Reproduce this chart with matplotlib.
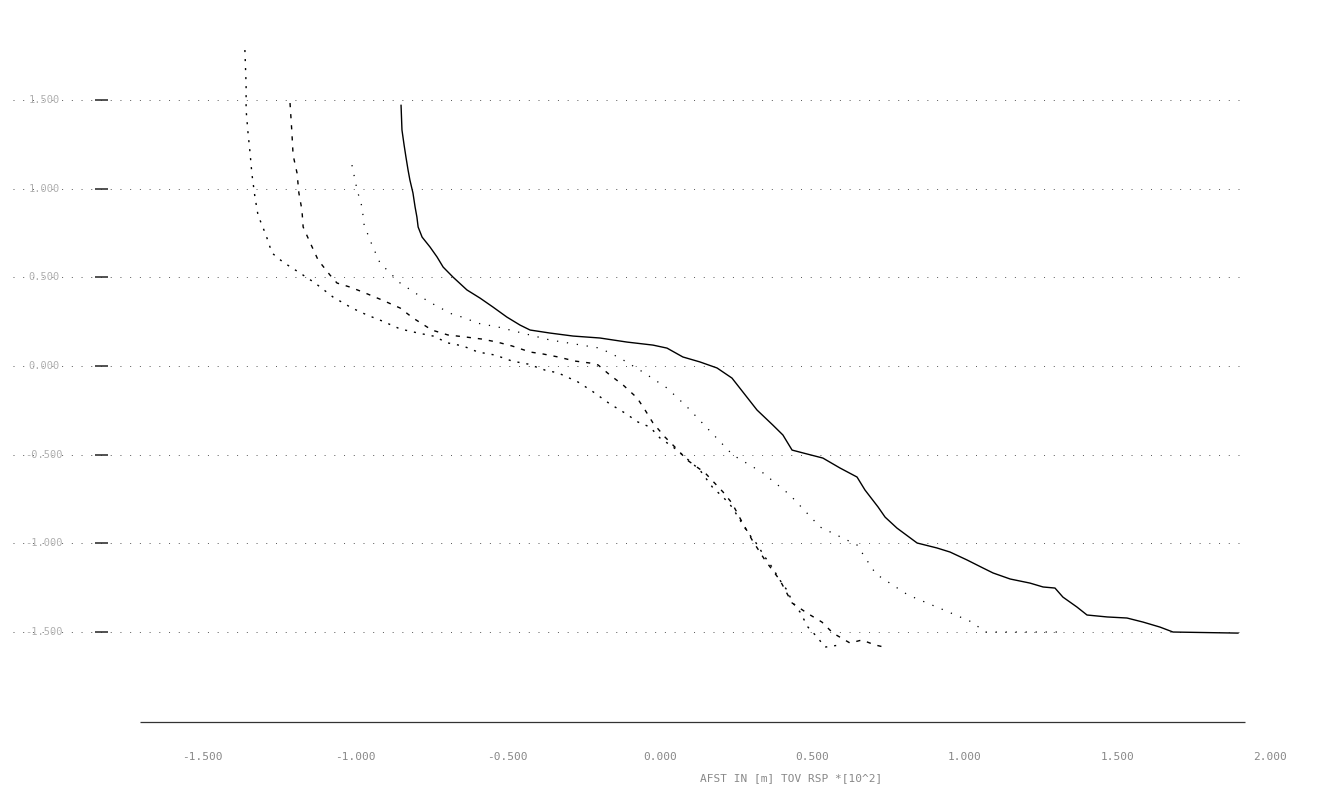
import matplotlib
matplotlib.use("Agg")
import matplotlib.pyplot as plt
import numpy as np

################################################################################
# profile data, distance *10^2 m vs level

xTicks = [-1.5, -1.0, -0.5, 0.0, 0.5, 1.0, 1.5, 2.0]
yTicks = [1.5, 1.0, 0.5, 0.0, -0.5, -1.0, -1.5]

profileX = [-0.849, -0.846, -0.839, -0.833, -0.826, -0.820, -0.810, -0.803, -0.797,
            -0.793, -0.780, -0.754, -0.731, -0.711, -0.679, -0.633, -0.590, -0.548,
            -0.502, -0.459, -0.426, -0.361, -0.285, -0.197, -0.108, -0.023, 0.023,
            0.075, 0.131, 0.187, 0.236, 0.272, 0.318, 0.370, 0.403, 0.433, 0.482,
            0.534, 0.590, 0.646, 0.672, 0.715, 0.738, 0.777, 0.843, 0.908, 0.951,
            1.007, 1.059, 1.092, 1.148, 1.213, 1.256, 1.295, 1.321, 1.367, 1.400,
            1.466, 1.531, 1.584, 1.639, 1.682, 1.895]
profileY = [1.470, 1.331, 1.246, 1.179, 1.105, 1.049, 0.976, 0.897, 0.840,
            0.784, 0.727, 0.671, 0.615, 0.558, 0.502, 0.429, 0.383, 0.333,
            0.276, 0.231, 0.203, 0.186, 0.169, 0.158, 0.135, 0.118, 0.101,
            0.051, 0.023, -0.011, -0.068, -0.147, -0.248, -0.333, -0.389, -0.474, -0.496,
            -0.519, -0.575, -0.626, -0.699, -0.795, -0.852, -0.914, -0.998, -1.026, -1.049,
            -1.094, -1.139, -1.167, -1.201, -1.224, -1.246, -1.252, -1.303, -1.359, -1.404,
            -1.415, -1.421, -1.444, -1.472, -1.500, -1.506]

erosionAX = [-1.361, -1.357, -1.357, -1.351, -1.344, -1.338, -1.328, -1.318, -1.292,
             -1.272, -1.236, -1.180, -1.131, -1.072, -1.010, -0.961, -0.911, -0.852,
             -0.793, -0.744, -0.695, -0.646, -0.597, -0.541, -0.485, -0.433, -0.377,
             -0.334, -0.269, -0.223, -0.164, -0.115, -0.072, -0.033, 0.000, 0.043,
             0.082, 0.131, 0.174, 0.207, 0.236, 0.262, 0.289, 0.315, 0.344, 0.367,
             0.393, 0.416, 0.436, 0.459, 0.485, 0.515, 0.541, 0.590]
erosionAY = [1.782, 1.585, 1.444, 1.320, 1.201, 1.083, 0.953, 0.851, 0.739,
             0.637, 0.586, 0.524, 0.468, 0.389, 0.327, 0.288, 0.254, 0.209,
             0.186, 0.169, 0.130, 0.113, 0.079, 0.062, 0.028, 0.011, -0.023,
             -0.039, -0.090, -0.141, -0.214, -0.265, -0.316, -0.344, -0.406, -0.457,
             -0.513, -0.587, -0.688, -0.739, -0.795, -0.868, -0.942, -0.998, -1.077, -1.133,
             -1.207, -1.263, -1.336, -1.387, -1.472, -1.528, -1.585, -1.573]

erosionBX = [-1.213, -1.207, -1.203, -1.190, -1.184, -1.174, -1.170, -1.148, -1.121,
             -1.082, -1.059, -1.016, -0.974, -0.911, -0.852, -0.810, -0.748, -0.695,
             -0.639, -0.584, -0.534, -0.485, -0.426, -0.384, -0.334, -0.279, -0.230,
             -0.203, -0.164, -0.121, -0.075, -0.049, -0.023, 0.016, 0.049, 0.089,
             0.148, 0.207, 0.236, 0.262, 0.302, 0.344, 0.393, 0.433, 0.482, 0.531,
             0.567, 0.623, 0.662, 0.705, 0.748]
erosionBY = [1.483, 1.320, 1.190, 1.088, 0.976, 0.880, 0.784, 0.699, 0.598,
             0.513, 0.468, 0.445, 0.417, 0.372, 0.327, 0.271, 0.203, 0.175,
             0.164, 0.152, 0.135, 0.113, 0.079, 0.068, 0.051, 0.028, 0.017,
             0.006, -0.051, -0.107, -0.180, -0.248, -0.321, -0.400, -0.457, -0.530,
             -0.603, -0.711, -0.773, -0.857, -0.981, -1.094, -1.207, -1.336, -1.393, -1.444,
             -1.506, -1.562, -1.545, -1.573, -1.590]

erosionCX = [-1.010, -0.993, -0.977, -0.970, -0.944, -0.918, -0.852, -0.777, -0.738,
             -0.682, -0.639, -0.600, -0.531, -0.361, -0.197, -0.131, -0.056, 0.023,
             0.089, 0.164, 0.239, 0.338, 0.426, 0.525, 0.646, 0.682, 0.708,
             0.813, 0.931, 1.023, 1.066, 1.311]
erosionCY = [1.133, 0.992, 0.897, 0.795, 0.682, 0.581, 0.468, 0.383, 0.344,
             0.293, 0.271, 0.242, 0.220, 0.147, 0.101, 0.045, -0.034, -0.124,
             -0.231, -0.367, -0.502, -0.603, -0.727, -0.908, -1.009, -1.105, -1.173,
             -1.291, -1.376, -1.444, -1.500, -1.500]

xTitle = "AFST IN [m] TOV RSP *[10^2]"

################################################################################

def drawFrame(ax):
   gridLeft, gridRight = -2.12, 1.918
   for yv in yTicks:
      ax.hlines(yv, gridLeft, gridRight, colors="#555555", linewidth=0.7,
                linestyles=(0, (1, 9)))
      ax.hlines(yv, -1.852, -1.810, colors="#333333", linewidth=1.2)
      ax.text(-2.02, yv, f"{yv:.3f}", ha="center", va="center", fontsize=7.5,
              family="DejaVu Sans Mono", color="#b0b0b0")

   axisY = -2.008
   ax.hlines(axisY, -1.705, 1.918, colors="#333333", linewidth=0.9)
   for xv in xTicks:
      ax.text(xv, -2.205, f"{xv:.3f}", ha="center", va="center", fontsize=8,
              family="DejaVu Sans Mono", color="#888888")
   ax.text(0.43, -2.323, xTitle, ha="center", va="center", fontsize=8,
           family="DejaVu Sans Mono", color="#888888")

################################################################################

def showProfiles():
   fig = plt.figure(figsize=(13.2, 7.95), dpi=100)
   ax = fig.add_axes([0, 0, 1, 1])
   ax.set_xlim(-2.1639, 2.1639)
   ax.set_ylim(-2.419, 2.064)
   ax.axis("off")

   drawFrame(ax)

   ax.plot(profileX, profileY, color="black", linewidth=1.0)
   ax.plot(erosionAX, erosionAY, color="black", linewidth=1.0, linestyle=(0, (1.5, 5)))
   ax.plot(erosionBX, erosionBY, color="black", linewidth=1.0, linestyle=(0, (3, 5)))
   ax.plot(erosionCX, erosionCY, color="black", linewidth=0.9, linestyle=(0, (1, 7)))

   fig.savefig("out.png", dpi=100, facecolor="white")

showProfiles()
